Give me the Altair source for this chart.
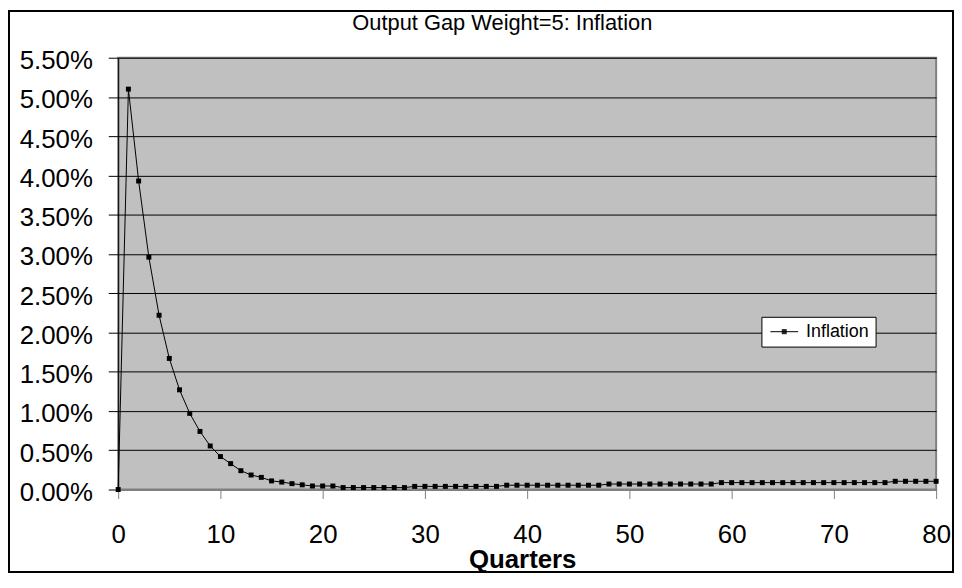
import altair as alt
import pandas as pd

quarters = list(range(81))
inflation_pct = [
    0.0, 5.10, 3.93, 2.96, 2.22, 1.67, 1.27, 0.97, 0.74, 0.555,
    0.42, 0.33, 0.24, 0.185, 0.155, 0.11, 0.095, 0.075, 0.06, 0.045,
    0.045, 0.045, 0.025, 0.025, 0.025, 0.025, 0.025, 0.025, 0.025, 0.04,
    0.04, 0.04, 0.04, 0.04, 0.04, 0.04, 0.04, 0.04, 0.055, 0.055,
    0.055, 0.055, 0.055, 0.055, 0.055, 0.055, 0.055, 0.055, 0.07, 0.07,
    0.07, 0.07, 0.07, 0.07, 0.07, 0.07, 0.07, 0.07, 0.07, 0.088,
    0.088, 0.088, 0.088, 0.088, 0.088, 0.088, 0.088, 0.088, 0.088, 0.088,
    0.088, 0.088, 0.088, 0.088, 0.088, 0.088, 0.105, 0.105, 0.105, 0.105,
    0.105,
]
series_name = "Inflation"
x_ticks = [0, 10, 20, 30, 40, 50, 60, 70, 80]
y_ticks = [0.0, 0.005, 0.01, 0.015, 0.02, 0.025, 0.03, 0.035, 0.04, 0.045, 0.05, 0.055]

df = pd.DataFrame({
    "quarter": quarters,
    "inflation": [v / 100 for v in inflation_pct],
    "series": [series_name] * len(quarters),
})

FONT = "Liberation Sans"

x_enc = alt.X(
    "quarter:Q",
    scale=alt.Scale(domain=[0, 80], nice=False, zero=False),
    axis=alt.Axis(
        values=x_ticks, title="Quarters", grid=False, format="d",
        domainColor="#808080", domainWidth=2,
        tickColor="#808080", tickSize=9, tickWidth=1,
        labelFont=FONT, labelFontSize=26, labelColor="black",
        labelPadding=44, labelBaseline="alphabetic",
        labelFlush=False, labelOverlap=False,
        titleFont=FONT, titleFontSize=26, titleFontWeight="bold", titleColor="black",
        titleX=407, titleY=79, titleBaseline="alphabetic", titleAlign="center",
    ),
)
y_enc = alt.Y(
    "inflation:Q",
    scale=alt.Scale(domain=[0, 0.055], nice=False),
    axis=alt.Axis(
        values=y_ticks, format=".2%", title=None, grid=True,
        gridColor="black", gridWidth=1, gridOpacity=1,
        domainColor="black", domainWidth=1,
        tickColor="black", tickSize=10, tickWidth=1,
        labelFont=FONT, labelFontSize=26, labelColor="black",
        labelPadding=16, labelBaseline="alphabetic", labelOffset=11,
        labelFlush=False, labelOverlap=False,
    ),
)

legend_symbol = (
    "M-1.75,0H1.75"
    "M-0.31,-0.25H0.31M-0.31,-0.125H0.31M-0.31,0H0.31"
    "M-0.31,0.125H0.31M-0.31,0.25H0.31"
)

line = alt.Chart(df).mark_line(strokeWidth=1).encode(
    x=x_enc,
    y=y_enc,
    color=alt.Color(
        "series:N",
        scale=alt.Scale(domain=[series_name], range=["black"]),
        legend=alt.Legend(
            title=None, orient="none", legendX=648, legendY=261,
            fillColor="white", strokeColor="black", padding=6,
            symbolType=legend_symbol, symbolSize=256, symbolStrokeWidth=1,
            symbolStrokeColor="black", symbolFillColor="black",
            symbolOffset=8, labelOffset=13,
            labelFont=FONT, labelFontSize=18, labelColor="black",
        ),
    ),
)

points = alt.Chart(df).mark_point(
    shape="square", filled=True, size=25, color="black", opacity=1
).encode(x=x_enc, y=y_enc)

frame = alt.Chart(pd.DataFrame({"a": [0]})).mark_rect(
    fillOpacity=0, stroke="black", strokeWidth=2
).encode(
    x=alt.value(-110), x2=alt.value(841), y=alt.value(-47), y2=alt.value(518)
)

chart = alt.layer(line, points, frame).properties(
    width=824,
    height=435,
    title=alt.Title(
        "Output Gap Weight=5: Inflation", font=FONT, fontSize=22,
        fontWeight="normal", color="black", anchor="middle", dx=-25,
        baseline="alphabetic", offset=-42, frame="group",
    ),
    autosize=alt.AutoSizeParams(type="none"),
    padding={"left": 111, "top": 48, "right": 18, "bottom": 84},
).configure(
    background="white"
).configure_view(
    fill="#C0C0C0", stroke="#808080", strokeWidth=2
)

chart.save("out.html", embed_options={"renderer": "svg", "actions": False})
